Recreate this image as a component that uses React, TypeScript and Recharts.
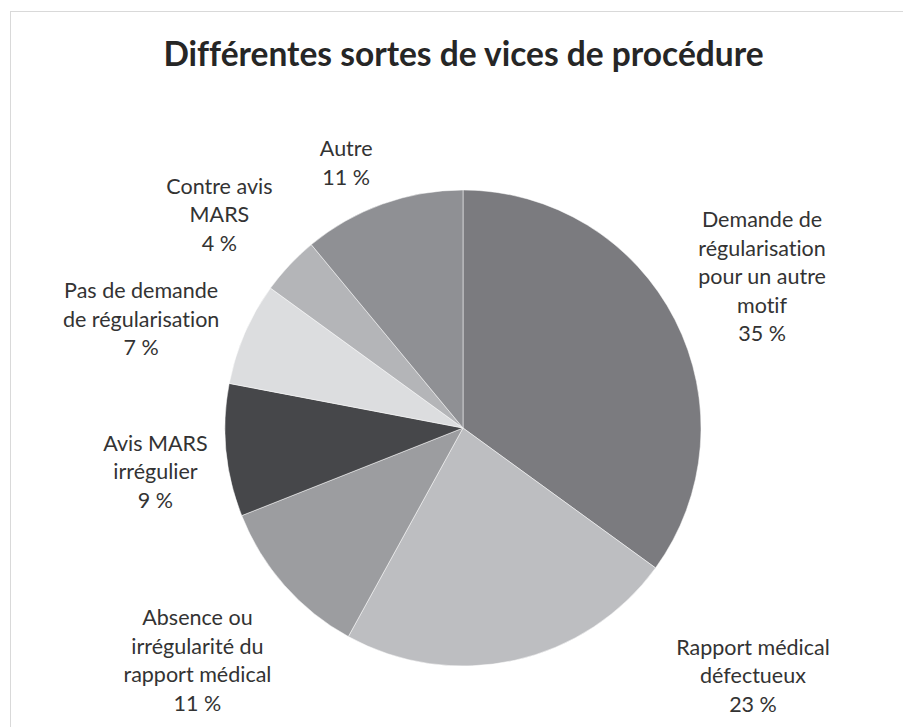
import React from "react";
import { PieChart, Pie, Cell } from "recharts";

const categories = [
  "Demande de régularisation pour un autre motif",
  "Rapport médical défectueux",
  "Absence ou irrégularité du rapport médical",
  "Avis MARS irrégulier",
  "Pas de demande de régularisation",
  "Contre avis MARS",
  "Autre",
];

// line breaks as in the original labels
const labelLines = [
  ["Demande de", "régularisation", "pour un autre", "motif"],
  ["Rapport médical", "défectueux"],
  ["Absence ou", "irrégularité du", "rapport médical"],
  ["Avis MARS", "irrégulier"],
  ["Pas de demande", "de régularisation"],
  ["Contre avis", "MARS"],
  ["Autre"],
];

const values = [35, 23, 11, 9, 7, 4, 11];

const colors = [
  "#7b7b7f",
  "#bdbec1",
  "#9c9da0",
  "#46474a",
  "#dcdddf",
  "#b4b5b8",
  "#8f9094",
];

// small offsets so labels sit like Excel's "best fit"
const labelNudge = [
  [5, -2],
  [218, -75],
  [-18, 14],
  [21, 12],
  [-19, 22],
  [-3, 12],
  [-5, 45],
];

const data = categories.map((name, i) => ({ name, value: values[i] }));

const RAD = Math.PI / 180;
const LINE_H = 28.5;

const renderLabel = (props: any) => {
  const { cx, cy, midAngle, outerRadius, index, value } = props;
  const r = outerRadius + 92;
  const lines = [...labelLines[index], `${value} %`];
  const x = cx + r * Math.cos(-midAngle * RAD) + labelNudge[index][0];
  const yMid = cy + r * Math.sin(-midAngle * RAD) + labelNudge[index][1];
  const y0 = yMid - ((lines.length - 1) / 2) * LINE_H;
  return (
    <text
      x={x}
      y={y0}
      textAnchor="middle"
      dominantBaseline="central"
      fontFamily="Lato"
      fontSize={21.5}
      fill="#333333"
      style={{ fontVariantLigatures: "none" }}
    >
      {lines.map((l, i) => (
        <tspan key={i} x={x} y={y0 + i * LINE_H}>
          {l}
        </tspan>
      ))}
    </text>
  );
};

export default function App() {
  return (
    <div
      style={{
        position: "fixed",
        left: 0,
        top: 0,
        width: 903,
        height: 727,
        overflow: "hidden",
        background: "#fff",
      }}
    >
      <style>{"html,body{margin:0;padding:0;overflow:hidden;}"}</style>
      <div
        style={{
          position: "absolute",
          left: 10,
          top: 11,
          width: 1000,
          height: 1000,
          border: "1px solid #d9d9d9",
        }}
      />
      <div
        style={{
          position: "absolute",
          left: 0,
          top: 33,
          width: 927,
          textAlign: "center",
          fontFamily: "Lato",
          fontWeight: 700,
          fontSize: 33.5,
          lineHeight: "40px",
          color: "#262626",
          whiteSpace: "nowrap",
          fontVariantLigatures: "none",
        }}
      >
        Différentes sortes de vices de procédure
      </div>
      <PieChart
        width={903}
        height={727}
        margin={{ top: 0, right: 0, bottom: 0, left: 0 }}
        style={{ position: "absolute", left: 0, top: 0 }}
      >
        <Pie
          data={data}
          dataKey="value"
          nameKey="name"
          cx={463}
          cy={428}
          outerRadius={238}
          startAngle={90}
          endAngle={-270}
          stroke="#ffffff"
          strokeWidth={0.5}
          label={renderLabel}
          labelLine={false}
          isAnimationActive={false}
        >
          {data.map((d, i) => (
            <Cell key={d.name} fill={colors[i]} />
          ))}
        </Pie>
      </PieChart>
    </div>
  );
}
